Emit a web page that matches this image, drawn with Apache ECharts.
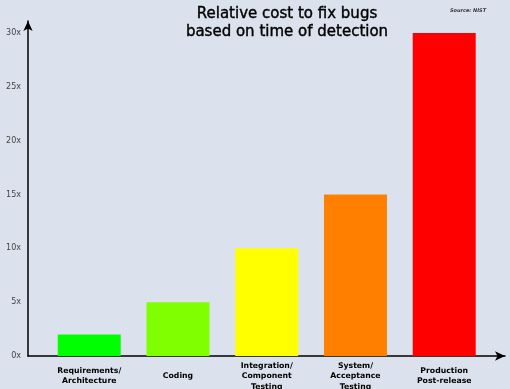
<!DOCTYPE html>
<html><head><meta charset="utf-8">
<script src="https://cdn.jsdelivr.net/npm/echarts@6/dist/echarts.min.js"></script>
<style>html,body{margin:0;padding:0;background:#dce2ed;}#c{width:510px;height:389px;}</style>
</head><body><div id="c"></div>
<script>
const categories = ['Requirements/\nArchitecture', 'Coding', 'Integration/\nComponent\nTesting', 'System/\nAcceptance\nTesting', 'Production\nPost-release'];
const costs = [2, 5, 10, 15, 30];
const colors = ['#00ff00', '#80ff00', '#ffff00', '#ff8000', '#ff0000'];
const yTicks = [0, 5, 10, 15, 20, 25, 30];

const chart = echarts.init(document.getElementById('c'), null, {renderer: 'canvas'});
chart.setOption({
  backgroundColor: '#dce2ed',
  animation: false,
  title: [{
    text: 'Relative cost to fix bugs\nbased on time of detection',
    left: 282, top: 0, textAlign: 'center',
    textStyle: {fontFamily: 'DejaVu Sans', fontSize: 15, fontWeight: 'normal', color: '#000', lineHeight: 18,
                textBorderColor: '#000', textBorderWidth: 0.4}
  }, {
    text: 'Source: NIST',
    left: 463, top: 3, textAlign: 'center',
    textStyle: {fontFamily: 'DejaVu Sans', fontSize: 5, fontWeight: 'bold', fontStyle: 'italic', color: '#333'}
  }],
  grid: {left: 28, right: 5, top: 21, bottom: 33, outerBoundsMode: 'none', containLabel: false},
  xAxis: {
    type: 'value', min: -0.69, max: 4.685,
    splitLine: {show: false},
    axisTick: {show: false},
    axisLine: {show: true, onZero: false, lineStyle: {color: '#000', width: 1.5}, symbol: ['none', 'arrow'], symbolSize: [7, 10]},
    axisLabel: {
      fontFamily: 'DejaVu Sans', fontSize: 7.75, fontWeight: 'bold', color: '#000',
      lineHeight: 10.5, verticalAlign: 'middle', margin: 20,
      showMinLabel: false, showMaxLabel: false,
      formatter: v => (Number.isInteger(v) && categories[v] !== undefined) ? categories[v] : ''
    }
  },
  yAxis: {
    type: 'value', min: 0, max: 31.11, interval: 5,
    splitLine: {show: false},
    axisTick: {show: false},
    axisLine: {show: true, onZero: false, lineStyle: {color: '#000', width: 1.5}, symbol: ['none', 'arrow'], symbolSize: [7, 10]},
    axisLabel: {
      fontFamily: 'DejaVu Sans', fontSize: 8, color: '#444', margin: 7,
      showMaxLabel: false,
      formatter: v => yTicks.includes(v) ? v + 'x' : ''
    }
  },
  series: [{
    type: 'bar',
    barWidth: 63,
    data: costs.map((v, i) => ({value: [i, v], itemStyle: {color: colors[i]}}))
  }]
});
</script></body></html>
